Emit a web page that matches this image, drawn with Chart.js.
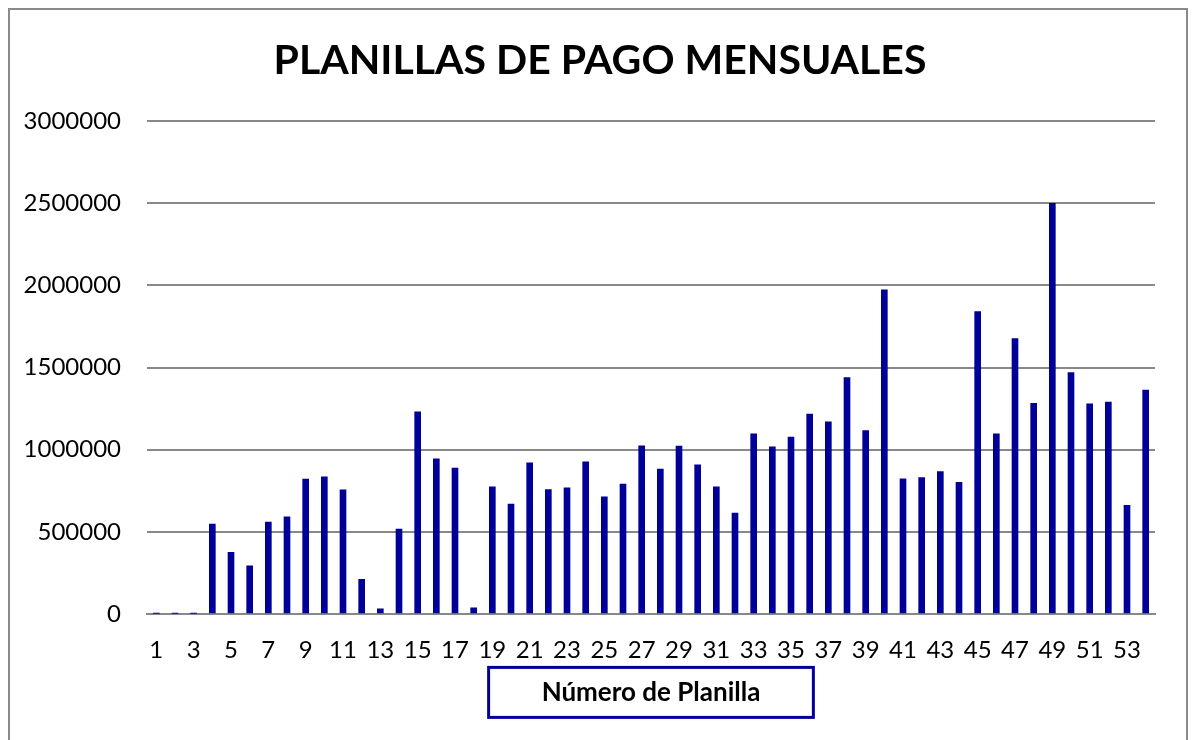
<!DOCTYPE html>
<html>
<head>
<meta charset="utf-8">
<script src="https://cdn.jsdelivr.net/npm/chart.js@4/dist/chart.umd.min.js"></script>
<style>
  html, body { margin: 0; padding: 0; background: #fff; }
  #wrap { width: 1194px; height: 740px; }
</style>
</head>
<body>
<div id="wrap"><canvas id="chart"></canvas></div>
<script>
// planilla numbers 1..54 and the monthly payroll
const planillas = ['1','2','3','4','5','6','7','8','9','10','11','12','13','14','15','16','17','18',
  '19','20','21','22','23','24','25','26','27','28','29','30','31','32','33','34','35','36',
  '37','38','39','40','41','42','43','44','45','46','47','48','49','50','51','52','53','54'];
const montos = [4000, 4000, 4000, 547000, 375000, 294000, 560000, 592000, 821000, 835000,
  756000, 211000, 32000, 517000, 1231000, 945000, 888000, 38000, 774000, 669000,
  920000, 758000, 768000, 926000, 713000, 791000, 1024000, 882000, 1022000, 908000,
  774000, 614000, 1097000, 1018000, 1077000, 1217000, 1170000, 1439000, 1117000, 1973000,
  823000, 831000, 867000, 801000, 1841000, 1097000, 1676000, 1283000, 2500000, 1470000,
  1279000, 1290000, 661000, 1363000];
const yTicks = [0, 500000, 1000000, 1500000, 2000000, 2500000, 3000000];

const barColor = '#000099';
const gridColor = '#888888';
const fontFam = 'Lato, "Liberation Sans", sans-serif';

// outer frame of the chart object
const framePlugin = {
    id: 'frame',
    beforeDraw(chart) {
        const ctx = chart.ctx;
        ctx.save();
        ctx.fillStyle = '#fff';
        ctx.fillRect(0, 0, chart.width, chart.height);
        ctx.strokeStyle = '#8a8a8a';
        ctx.lineWidth = 2;
        ctx.strokeRect(9, 9, chart.width - 16, chart.height + 20);
        ctx.restore();
    },
};

// box around the x axis title
const titleBoxPlugin = {
    id: 'titleBox',
    afterDraw(chart) {
        const x = chart.scales.x;
        const t = x.options.title;
        const ctx = chart.ctx;
        ctx.save();
        ctx.font = 'bold ' + t.font.size + 'px ' + fontFam;
        const w = ctx.measureText(t.text).width + 106;
        const lh = t.font.size * 1.2;
        const cx = (chart.chartArea.left + chart.chartArea.right) / 2;
        const cy = x.bottom - t.padding.bottom - lh / 2;
        ctx.strokeStyle = barColor;
        ctx.lineWidth = 3;
        ctx.strokeRect(cx - w / 2, cy - 25, w, 50);
        ctx.restore();
    },
};

const myChart = new Chart(document.getElementById('chart'), {
    type: 'bar',
    data: {
        labels: planillas,
        datasets: [{
            label: 'Monto',
            data: montos,
            backgroundColor: barColor,
            barThickness: 6,
        }],
    },
    options: {
        responsive: true,
        maintainAspectRatio: false,
        animation: false,
        layout: { padding: { left: 20, right: 14, top: 10, bottom: 22 } },
        plugins: {
            legend: { display: false },
            tooltip: { enabled: false },
            title: {
                display: true,
                text: 'PLANILLAS DE PAGO MENSUALES',
                color: '#000',
                font: { family: fontFam, size: 41, weight: 'bold' },
                padding: { top: 26, bottom: 36 },
            },
        },
        scales: {
            x: {
                grid: { display: false, drawTicks: false },
                border: { display: true, color: gridColor, width: 2 },
                ticks: {
                    color: '#000',
                    font: { family: fontFam, size: 24 },
                    autoSkip: false,
                    maxRotation: 0,
                    padding: 22,
                    callback: (v, i) => (i % 2 === 0 ? planillas[i] : ''),
                },
                title: {
                    display: true,
                    text: 'Número de Planilla',
                    color: '#000',
                    font: { family: fontFam, size: 26, weight: 'bold' },
                    padding: { top: -10, bottom: 10 },
                },
            },
            y: {
                min: 0,
                max: 3000000,
                afterBuildTicks: (scale) => { scale.ticks = yTicks.map((v) => ({ value: v })); },
                afterFit: (scale) => { scale.width = 127; },
                grid: { color: gridColor, lineWidth: 2, drawTicks: false },
                border: { display: false },
                ticks: {
                    color: '#000',
                    font: { family: fontFam, size: 24 },
                    padding: 26,
                    callback: (v) => String(v),
                },
            },
            // empty right-hand axis, only keeps the plot clear of the frame
            yRight: {
                position: 'right',
                afterFit: (scale) => { scale.width = 25; },
                grid: { display: false, drawTicks: false },
                border: { display: false },
                ticks: { display: false },
            },
        },
    },
    plugins: [framePlugin, titleBoxPlugin],
});
</script>
</body>
</html>
